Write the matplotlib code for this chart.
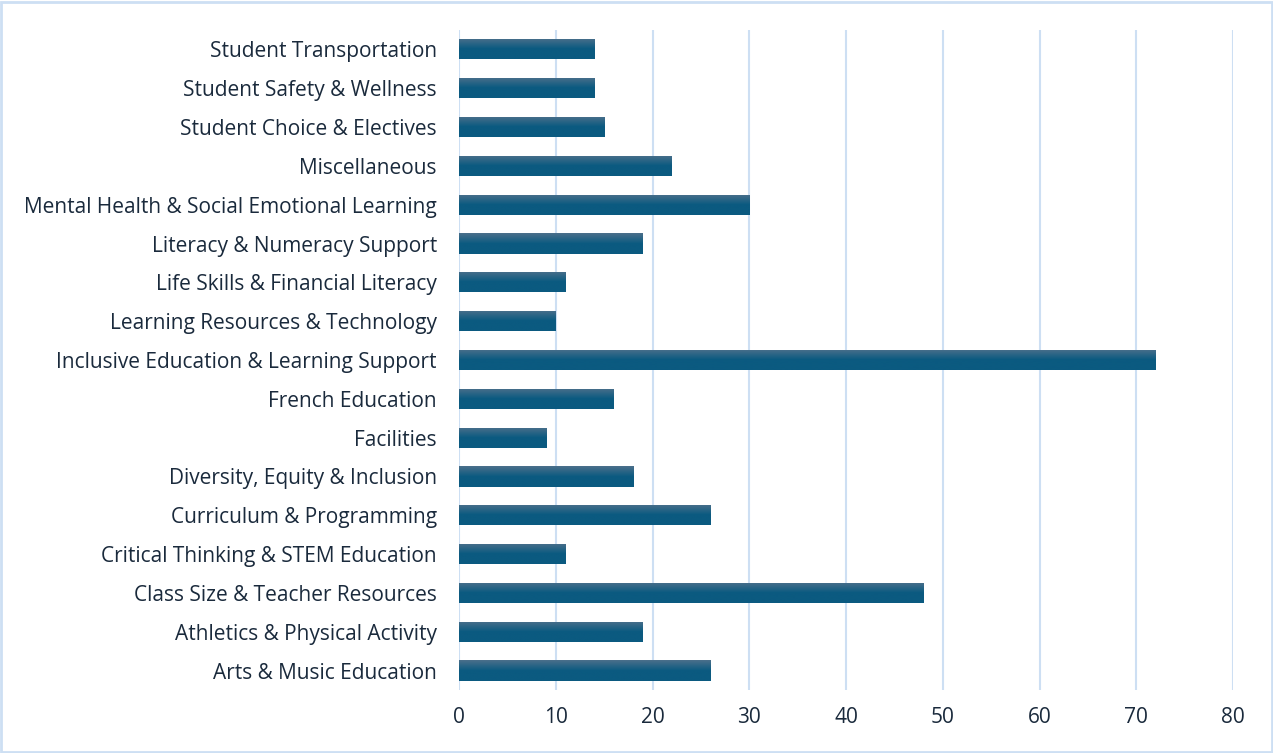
import matplotlib.pyplot as plt
import numpy as np
from matplotlib.patches import Rectangle
from matplotlib.colors import LinearSegmentedColormap

categories = [
    "Arts & Music Education",
    "Athletics & Physical Activity",
    "Class Size & Teacher Resources",
    "Critical Thinking & STEM Education",
    "Curriculum & Programming",
    "Diversity, Equity & Inclusion",
    "Facilities",
    "French Education",
    "Inclusive Education & Learning Support",
    "Learning Resources & Technology",
    "Life Skills & Financial Literacy",
    "Literacy & Numeracy Support",
    "Mental Health & Social Emotional Learning",
    "Miscellaneous",
    "Student Choice & Electives",
    "Student Safety & Wellness",
    "Student Transportation",
]
counts = [26, 19, 48, 11, 26, 18, 9, 16, 72, 10, 11, 19, 30, 22, 15, 14, 14]
xticks = [0, 10, 20, 30, 40, 50, 60, 70, 80]

plt.rcParams['font.family'] = ['Open Sans', 'DejaVu Sans']
text_col = "#1a2a3c"
grid_col = "#cddff3"

fig = plt.figure(figsize=(12.73, 7.53), dpi=100)
ax = fig.add_axes([0.3606, 0.0837, 0.608, 0.8765])

y = np.arange(len(categories))
bars = ax.barh(y, counts, height=0.52, color="#0b5a80", zorder=2)

# vertical gradient on each bar (lighter at the top)
cmap = LinearSegmentedColormap.from_list("g", ["#0b5a80", "#0b5a80", "#4b6f8b"])
grad = np.linspace(0, 1, 100).reshape(-1, 1)
for b in bars:
    x0, y0 = b.get_x(), b.get_y()
    w, h = b.get_width(), b.get_height()
    im = ax.imshow(grad, cmap=cmap, aspect="auto", origin="lower",
                   extent=[x0, x0 + w, y0, y0 + h], zorder=3)
    im.set_clip_path(b)

ax.set_xlim(0, 80)
ax.set_ylim(-0.5, len(categories) - 0.5)
ax.set_xticks(xticks)
ax.set_yticks(y)
ax.set_yticklabels(categories)
ax.tick_params(length=0, labelsize=15, colors=text_col)
ax.tick_params(axis="x", pad=12)
ax.tick_params(axis="y", pad=16)
ax.grid(axis="x", color=grid_col, linewidth=1.5, zorder=0)
for s in ax.spines.values():
    s.set_visible(False)

fig.add_artist(Rectangle((0.001, 0.001), 0.998, 0.997, transform=fig.transFigure,
                         fill=False, edgecolor=grid_col, linewidth=2))

fig.savefig("out.png", dpi=100)
